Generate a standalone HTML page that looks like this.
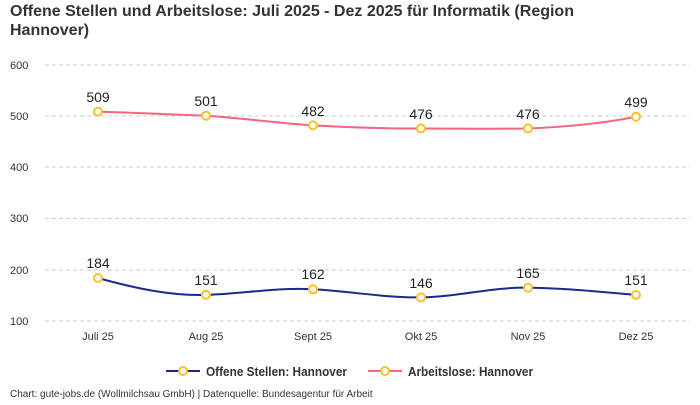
<!DOCTYPE html>
<html><head><meta charset="utf-8"><style>
body{margin:0;background:#fff;width:700px;height:400px;overflow:hidden;font-family:"Liberation Sans",sans-serif}
</style></head><body>
<svg width="700" height="400" xmlns="http://www.w3.org/2000/svg" font-family="Liberation Sans, sans-serif">
<text x="10" y="16" font-size="16" font-weight="bold" fill="#333">Offene Stellen und Arbeitslose: Juli 2025 - Dez 2025 für Informatik (Region</text>
<text x="10" y="35" font-size="16" font-weight="bold" fill="#333">Hannover)</text>
<g stroke="#ccc" stroke-dasharray="4,3" stroke-width="1">
<line x1="45" y1="65" x2="690" y2="65"/><line x1="45" y1="116" x2="690" y2="116"/>
<line x1="45" y1="167" x2="690" y2="167"/><line x1="45" y1="218.5" x2="690" y2="218.5"/>
<line x1="45" y1="270" x2="690" y2="270"/><line x1="45" y1="321" x2="690" y2="321"/>
</g>
<g font-size="11" fill="#333">
<text x="10" y="69">600</text><text x="10" y="120">500</text><text x="10" y="171">400</text>
<text x="10" y="222">300</text><text x="10" y="274">200</text><text x="10" y="325">100</text>
</g>
<g font-size="11" fill="#333" text-anchor="middle">
<text x="98" y="340">Juli 25</text><text x="206" y="340">Aug 25</text><text x="313" y="340">Sept 25</text>
<text x="421" y="340">Okt 25</text><text x="528" y="340">Nov 25</text><text x="636" y="340">Dez 25</text>
</g>
<path d="M98,111.6 C134,113 170,114 206,115.7 C242,118 277,123 313,125.4 C349,127.5 385,128.5 421,128.5 C457,128.5 492,129 528,128.5 C564,127 600,124 636,116.7" fill="none" stroke="#f4667f" stroke-width="2"/>
<path d="M98,278 C134,288 170,296 206,294.9 C242,294 277,287 313,289.3 C349,291 385,298 421,297.4 C457,297 492,287 528,287.7 C564,288 600,292 636,294.9" fill="none" stroke="#1a2b8c" stroke-width="2"/>
<g fill="#fff" stroke="#f9c02a" stroke-width="2">
<circle cx="98" cy="111.6" r="4"/><circle cx="206" cy="115.7" r="4"/><circle cx="313" cy="125.4" r="4"/>
<circle cx="421" cy="128.5" r="4"/><circle cx="528" cy="128.5" r="4"/><circle cx="636" cy="116.7" r="4"/>
<circle cx="98" cy="278" r="4"/><circle cx="206" cy="294.9" r="4"/><circle cx="313" cy="289.3" r="4"/>
<circle cx="421" cy="297.4" r="4"/><circle cx="528" cy="287.7" r="4"/><circle cx="636" cy="294.9" r="4"/>
</g>
<g font-size="14" fill="#222" text-anchor="middle">
<text x="98" y="102">509</text><text x="206" y="106">501</text><text x="313" y="116">482</text>
<text x="421" y="119">476</text><text x="528" y="119">476</text><text x="636" y="107">499</text>
<text x="98" y="268">184</text><text x="206" y="285">151</text><text x="313" y="279">162</text>
<text x="421" y="288">146</text><text x="528" y="278">165</text><text x="636" y="285">151</text>
</g>
<line x1="166" y1="371" x2="200" y2="371" stroke="#1a2b8c" stroke-width="2"/>
<circle cx="183" cy="371" r="4" fill="#fff" stroke="#f9c02a" stroke-width="2"/>
<text x="206" y="376" font-size="13" font-weight="bold" fill="#333" textLength="141" lengthAdjust="spacingAndGlyphs">Offene Stellen: Hannover</text>
<line x1="368" y1="371" x2="402" y2="371" stroke="#f4667f" stroke-width="2"/>
<circle cx="385" cy="371" r="4" fill="#fff" stroke="#f9c02a" stroke-width="2"/>
<text x="408" y="376" font-size="13" font-weight="bold" fill="#333" textLength="125" lengthAdjust="spacingAndGlyphs">Arbeitslose: Hannover</text>
<text x="10" y="397" font-size="10" fill="#333">Chart: gute-jobs.de (Wollmilchsau GmbH) | Datenquelle: Bundesagentur für Arbeit</text>
</svg>
</body></html>
